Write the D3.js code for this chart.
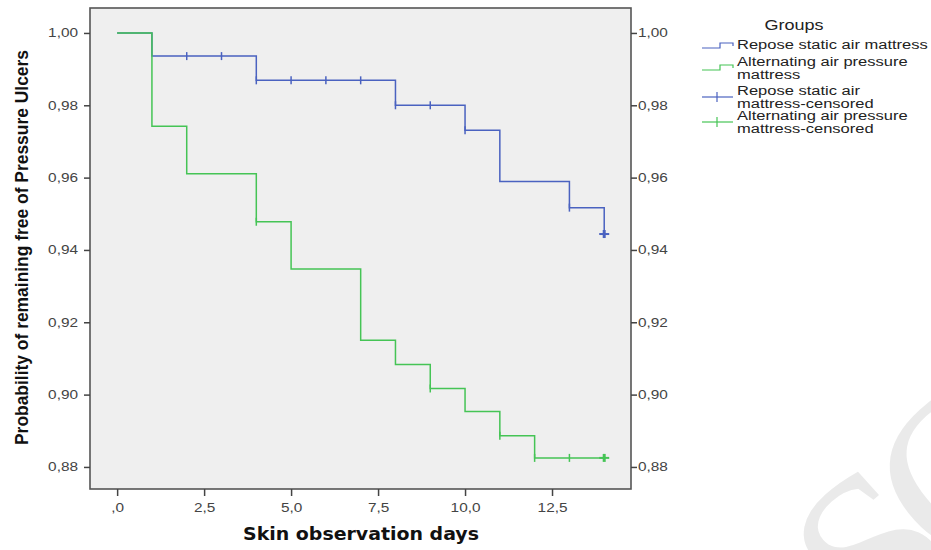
<!DOCTYPE html>
<html>
<head>
<meta charset="utf-8">
<script src="https://cdn.jsdelivr.net/npm/d3@7"></script>
<style>
  body { margin: 0; background: #fff; }
  svg { display: block; }
</style>
</head>
<body>
<div id="chart"></div>
<script>
// Kaplan-Meier curves
var reposeTimes = [0, 1, 4, 8, 10, 11, 13, 14];
var reposeSurv = [1.0, 0.9936, 0.9869, 0.98, 0.9731, 0.9589, 0.9517, 0.9444];
var reposeCensored = [2, 3, 4, 5, 6, 7, 8, 9, 10, 13, 14];

var altTimes = [0, 1, 2, 4, 5, 7, 8, 9, 10, 11, 12];
var altSurv = [1.0, 0.9742, 0.9611, 0.9478, 0.9347, 0.915, 0.9083, 0.9017, 0.8953, 0.8886, 0.8825];
var altCensored = [4, 9, 11, 12, 13, 14];

var lastDay = 14;

var xTicks = [0, 2.5, 5, 7.5, 10, 12.5];
var xTickLabels = [",0", "2,5", "5,0", "7,5", "10,0", "12,5"];
var yTicks = [1.0, 0.98, 0.96, 0.94, 0.92, 0.90, 0.88];
var yTickLabels = ["1,00", "0,98", "0,96", "0,94", "0,92", "0,90", "0,88"];

var groupNames = ["Repose static air mattress", "Alternating air pressure mattress"];

var svgWidth = 931, svgHeight = 550;
var plot = { left: 90, top: 8, right: 631, bottom: 489 };

var blue = "#4a62c0";
var green = "#45c455";
var font = "'Liberation Sans', Arial, sans-serif";

var svg = d3.select("#chart")
  .append("svg")
  .attr("width", svgWidth)
  .attr("height", svgHeight);

// watermark
svg.append("text")
  .attr("transform", "translate(878,652) rotate(-42)")
  .attr("font-family", "'Liberation Serif', serif")
  .attr("font-size", 230)
  .attr("letter-spacing", -22)
  .attr("fill", "#eaeaea")
  .text("SC");

var x = d3.scaleLinear().domain([-0.78, 14.77]).range([plot.left, plot.right]);
var y = d3.scaleLinear().domain([0.8739, 1.0069]).range([plot.bottom, plot.top]);

svg.append("rect")
  .attr("x", plot.left)
  .attr("y", plot.top)
  .attr("width", plot.right - plot.left)
  .attr("height", plot.bottom - plot.top)
  .attr("fill", "#efefef")
  .attr("stroke", "#555")
  .attr("stroke-width", 1.6);

// the original picture is stretched sideways, so text is widened to match
function widen(k) {
  return function(sel) {
    sel.each(function() {
      var len = this.getComputedTextLength();
      d3.select(this)
        .attr("textLength", len * k)
        .attr("lengthAdjust", "spacingAndGlyphs");
    });
  };
}

function styleAxis(g) {
  g.select(".domain").remove();
  g.selectAll(".tick line").attr("stroke", "#444").attr("stroke-width", 1.5);
  g.selectAll(".tick text")
    .attr("fill", "#444")
    .attr("font-family", font)
    .attr("font-size", "12px")
    .call(widen(1.28));
}

var leftAxis = d3.axisLeft(y)
  .tickValues(yTicks)
  .tickFormat((d, i) => yTickLabels[i])
  .tickSize(6).tickPadding(6);
svg.append("g").attr("transform", `translate(${plot.left},0)`).call(leftAxis).call(styleAxis);

var rightAxis = d3.axisRight(y)
  .tickValues(yTicks)
  .tickFormat((d, i) => yTickLabels[i])
  .tickSize(6).tickPadding(1);
svg.append("g").attr("transform", `translate(${plot.right},0)`).call(rightAxis).call(styleAxis);

var bottomAxis = d3.axisBottom(x)
  .tickValues(xTicks)
  .tickFormat((d, i) => xTickLabels[i])
  .tickSize(7).tickPadding(7);
svg.append("g").attr("transform", `translate(0,${plot.bottom})`).call(bottomAxis).call(styleAxis);

// survival step lines
var stepLine = d3.line()
  .x(d => x(d[0]))
  .y(d => y(d[1]))
  .curve(d3.curveStepAfter);

function drawCurve(times, surv, censored, color) {
  var pts = times.map((t, i) => [t, surv[i]]);
  pts.push([lastDay, surv[surv.length - 1]]);
  svg.append("path")
    .datum(pts)
    .attr("d", stepLine)
    .attr("fill", "none")
    .attr("stroke", color)
    .attr("stroke-width", 1.5);

  var survAt = function(t) {
    var v = surv[0];
    times.forEach((tt, i) => { if (tt <= t) v = surv[i]; });
    return v;
  };

  censored.forEach(function(t) {
    var cx = x(t), cy = y(survAt(t));
    var bold = t === lastDay;
    svg.append("line")
      .attr("x1", cx).attr("x2", cx)
      .attr("y1", cy - 4).attr("y2", cy + 4)
      .attr("stroke", color)
      .attr("stroke-width", bold ? 3 : 1.5);
    if (bold) {
      svg.append("line")
        .attr("x1", cx - 5).attr("x2", cx + 5)
        .attr("y1", cy).attr("y2", cy)
        .attr("stroke", color)
        .attr("stroke-width", 2);
    }
  });
}

drawCurve(reposeTimes, reposeSurv, reposeCensored, blue);
drawCurve(altTimes, altSurv, altCensored, green);

// axis titles
svg.append("text")
  .attr("transform", "translate(28,445) rotate(-90)")
  .attr("font-family", font)
  .attr("font-weight", "bold")
  .attr("font-size", "18px")
  .attr("fill", "#111")
  .attr("textLength", 395)
  .attr("lengthAdjust", "spacingAndGlyphs")
  .text("Probability of remaining free of Pressure Ulcers");

svg.append("text")
  .attr("x", 243)
  .attr("y", 540)
  .attr("font-family", "'DejaVu Sans', sans-serif")
  .attr("font-weight", "bold")
  .attr("font-size", "17px")
  .attr("fill", "#111")
  .attr("textLength", 236)
  .attr("lengthAdjust", "spacingAndGlyphs")
  .text("Skin observation days");

// legend
var legend = svg.append("g").attr("font-family", font).attr("fill", "#222");

legend.append("text")
  .attr("x", 794).attr("y", 30)
  .attr("text-anchor", "middle")
  .attr("font-size", "15px")
  .text("Groups")
  .call(widen(1.2));

var legendRows = [
  { color: blue, kind: "step", lines: [groupNames[0]], y: 48 },
  { color: green, kind: "step", lines: ["Alternating air pressure", "mattress"], y: 67 },
  { color: blue, kind: "cens", lines: ["Repose static air", "mattress-censored"], y: 96 },
  { color: green, kind: "cens", lines: ["Alternating air pressure", "mattress-censored"], y: 121 }
];

legendRows.forEach(function(r) {
  var sx = 702, ex = 733;
  if (r.kind === "step") {
    var sy = r.lines.length > 1 ? r.y + 3 : r.y;
    legend.append("path")
      .attr("d", `M${sx},${sy}H${sx + 18}V${sy - 5}H${ex}V${sy - 2}`)
      .attr("fill", "none")
      .attr("stroke", r.color)
      .attr("stroke-width", 1.2);
  } else {
    var cy = r.y + 1;
    legend.append("line")
      .attr("x1", sx).attr("x2", ex).attr("y1", cy).attr("y2", cy)
      .attr("stroke", r.color).attr("stroke-width", 1.2);
    legend.append("line")
      .attr("x1", 717).attr("x2", 717).attr("y1", cy - 5).attr("y2", cy + 5)
      .attr("stroke", r.color).attr("stroke-width", 1.2);
  }
  r.lines.forEach(function(line, i) {
    legend.append("text")
      .attr("x", 737)
      .attr("y", (r.lines.length > 1 ? r.y - 1 : r.y + 1) + i * 13)
      .attr("font-size", "12.5px")
      .text(line)
      .call(widen(1.32));
  });
});
</script>
</body>
</html>
